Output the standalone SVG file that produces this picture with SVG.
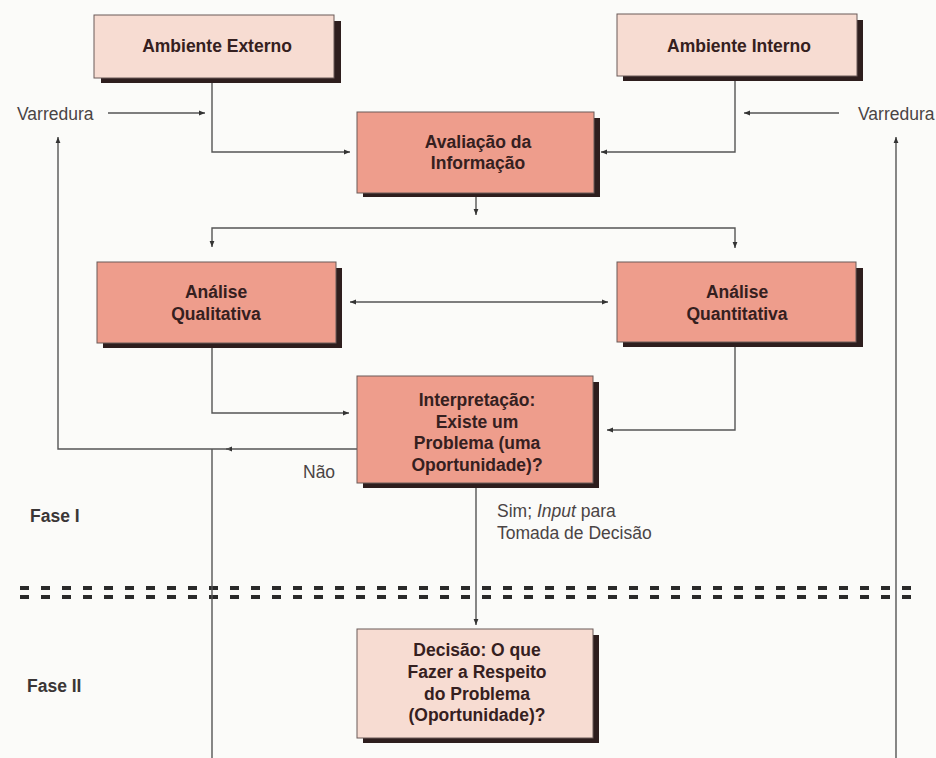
<svg xmlns="http://www.w3.org/2000/svg" width="936" height="758" viewBox="0 0 936 758">
<style>
.bg{fill:#fbfbf9}
.sh{fill:#2e1e1e}
.lt{fill:#f7dcd2;stroke:#6b5a58;stroke-width:1}
.dk{fill:#ee9d8c;stroke:#6b5a58;stroke-width:1}
.bt{font-family:"Liberation Sans",Arial,sans-serif;font-weight:bold;font-size:17.5px;fill:#352020;text-anchor:middle}
.rt{font-family:"Liberation Sans",Arial,sans-serif;font-size:17.5px;fill:#4a4444}
.ft{font-family:"Liberation Sans",Arial,sans-serif;font-weight:bold;font-size:17.5px;fill:#3a3636}
.ln{fill:none;stroke:#555;stroke-width:1.4}
.dash{fill:none;stroke:#2a2a2a;stroke-width:4;stroke-dasharray:9 12}
</style>
<defs>
<marker id="ah" viewBox="0 0 10 10" refX="10" refY="5" markerWidth="6" markerHeight="6" markerUnits="userSpaceOnUse" orient="auto-start-reverse">
<path d="M0,1 L10,5 L0,9 Z" fill="#333"/>
</marker>
</defs>
<rect class="bg" x="0" y="0" width="936" height="758"/>

<g id="separator">
<line class="dash" x1="20" y1="588" x2="916" y2="588"/>
<line class="dash" x1="20" y1="597" x2="916" y2="597"/>
</g>

<g id="connectors">
<path class="ln" d="M108,113 H205" marker-end="url(#ah)"/>
<path class="ln" d="M212,82 V152 H350" marker-end="url(#ah)"/>
<path class="ln" d="M735,81 V152 H601" marker-end="url(#ah)"/>
<path class="ln" d="M839,113 H744" marker-end="url(#ah)"/>
<path class="ln" d="M357,449 H226" marker-end="url(#ah)"/>
<path class="ln" d="M230,449 H58 V137" marker-end="url(#ah)"/>
<path class="ln" d="M212,449 V758"/>
<path class="ln" d="M896,758 V137" marker-end="url(#ah)"/>
<path class="ln" d="M476,197 V215" marker-end="url(#ah)"/>
<path class="ln" d="M474,228 H212 V247" marker-end="url(#ah)"/>
<path class="ln" d="M474,228 H735 V248" marker-end="url(#ah)"/>
<path class="ln" d="M350,302 H608" marker-start="url(#ah)" marker-end="url(#ah)"/>
<path class="ln" d="M212,348 V413 H349" marker-end="url(#ah)"/>
<path class="ln" d="M735,347 V430 H607" marker-end="url(#ah)"/>
<path class="ln" d="M476,488 V625" marker-end="url(#ah)"/>
</g>

<g id="ambiente-externo">
<rect class="sh" x="101" y="21" width="240" height="62"/>
<rect class="lt" x="94" y="15" width="240" height="63"/>
<text class="bt" x="217" y="52">Ambiente Externo</text>
</g>

<g id="ambiente-interno">
<rect class="sh" x="623" y="20" width="240" height="61"/>
<rect class="lt" x="617" y="14" width="240" height="62"/>
<text class="bt" x="739" y="52">Ambiente Interno</text>
</g>

<g id="avaliacao">
<rect class="sh" x="363" y="118" width="237" height="79"/>
<rect class="dk" x="357" y="112" width="237" height="81"/>
<text class="bt" x="478" y="148">Avaliação da</text>
<text class="bt" x="478" y="169">Informação</text>
</g>

<g id="analise-qualitativa">
<rect class="sh" x="103" y="268" width="239" height="80"/>
<rect class="dk" x="97" y="262" width="239" height="81"/>
<text class="bt" x="216" y="298">Análise</text>
<text class="bt" x="216" y="320">Qualitativa</text>
</g>

<g id="analise-quantitativa">
<rect class="sh" x="623" y="268" width="240" height="79"/>
<rect class="dk" x="617" y="262" width="239" height="80"/>
<text class="bt" x="737" y="298">Análise</text>
<text class="bt" x="737" y="320">Quantitativa</text>
</g>

<g id="interpretacao">
<rect class="sh" x="363" y="382" width="236" height="106"/>
<rect class="dk" x="357" y="376" width="236" height="107"/>
<text class="bt" x="477" y="406">Interpretação:</text>
<text class="bt" x="477" y="428">Existe um</text>
<text class="bt" x="477" y="449">Problema (uma</text>
<text class="bt" x="477" y="471">Oportunidade)?</text>
</g>

<g id="decisao">
<rect class="sh" x="363" y="635" width="236" height="108"/>
<rect class="lt" x="357" y="629" width="236" height="109"/>
<text class="bt" x="477" y="656">Decisão: O que</text>
<text class="bt" x="477" y="678">Fazer a Respeito</text>
<text class="bt" x="477" y="700">do Problema</text>
<text class="bt" x="477" y="721">(Oportunidade)?</text>
</g>

<g id="labels">
<text class="rt" x="17" y="120">Varredura</text>
<text class="rt" x="858" y="120">Varredura</text>
<text class="rt" x="303" y="478">Não</text>
<text class="rt" x="497" y="517">Sim; <tspan font-style="italic">Input</tspan> para</text>
<text class="rt" x="497" y="539">Tomada de Decisão</text>
<text class="ft" x="30" y="522">Fase I</text>
<text class="ft" x="27" y="692">Fase II</text>
</g>
</svg>
